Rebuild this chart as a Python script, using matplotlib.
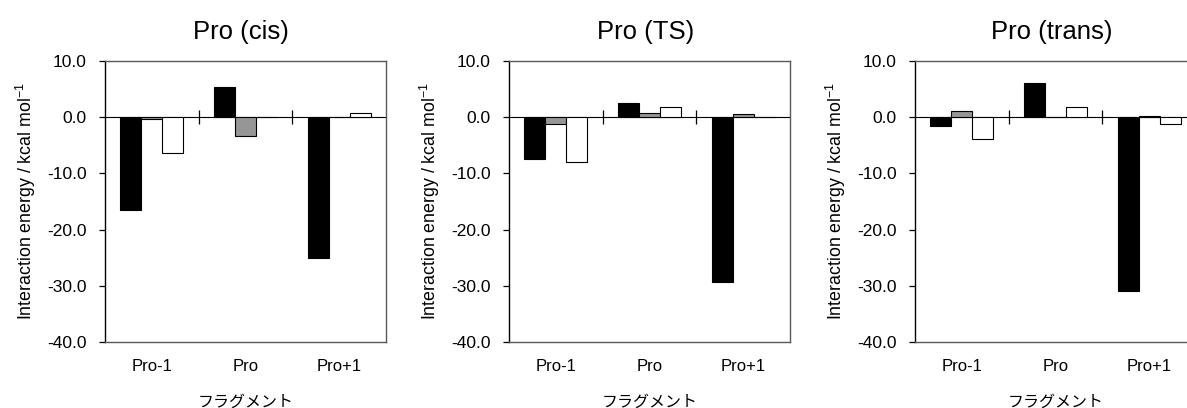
import matplotlib
matplotlib.use('Agg')
import matplotlib.pyplot as plt
import numpy as np

plt.rcParams['font.family'] = ['Liberation Sans', 'Noto Sans CJK JP', 'DejaVu Sans']
plt.rcParams['mathtext.default'] = 'regular'

# --- data ---
fragments = ['Pro-1', 'Pro', 'Pro+1']
titles = ['Pro (cis)', 'Pro (TS)', 'Pro (trans)']

# three series per panel: black, gray, white
cis_black = [-16.5, 5.4, -25.1]
cis_gray = [-0.4, -3.3, 0.0]
cis_white = [-6.3, 0.0, 0.8]

ts_black = [-7.4, 2.6, -29.4]
ts_gray = [-1.2, 0.8, 0.5]
ts_white = [-7.9, 1.8, 0.0]

trans_black = [-1.5, 6.0, -31.0]
trans_gray = [1.1, 0.0, 0.2]
trans_white = [-3.8, 1.8, -1.2]

panels = [
    (cis_black, cis_gray, cis_white),
    (ts_black, ts_gray, ts_white),
    (trans_black, trans_gray, trans_white),
]
colors = ['black', '#969696', 'white']
yticks = [10.0, 0.0, -10.0, -20.0, -30.0, -40.0]

fig = plt.figure(figsize=(11.87, 4.08), dpi=100)
lefts = [105, 509, 915]
W, H = 1187, 408
line_grey = '#595959'

x = np.arange(len(fragments))
bw = 0.225

for i, (series, title) in enumerate(zip(panels, titles)):
    ax = fig.add_axes([lefts[i] / W, 1 - 342 / H, 281 / W, 281 / H])
    for j, (vals, c) in enumerate(zip(series, colors)):
        ax.bar(x + (j - 1) * bw, vals, bw, color=c, edgecolor='black',
               linewidth=0.8, zorder=2)
    ax.set_xlim(-0.5, 2.5)
    ax.set_ylim(-40, 10)
    ax.set_yticks(yticks)
    ax.set_yticklabels([f'{v:.1f}' for v in yticks], fontsize=12.5)
    ax.tick_params(axis='y', direction='out', length=4, width=0.9, pad=9)
    ax.set_xticks(x)
    ax.set_xticklabels(fragments, fontsize=12)
    ax.tick_params(axis='x', length=0, pad=12)
    for side in ['top', 'right', 'bottom']:
        ax.spines[side].set_color(line_grey)
        ax.spines[side].set_linewidth(1.0)
    ax.spines['left'].set_color('black')
    ax.spines['left'].set_linewidth(1.0)

    # category axis crossing at zero, ticks between categories
    sec = ax.secondary_xaxis(0.8)
    sec.set_xticks([0.5, 1.5])
    sec.set_xticklabels([])
    sec.tick_params(direction='inout', length=10, width=0.9, color='black')
    sec.spines['bottom'].set_linewidth(1.0)
    sec.spines['bottom'].set_color(line_grey)

    ax.set_ylabel('Interaction energy / kcal mol$^{-1}$', fontsize=12.8)
    ax.yaxis.set_label_coords(-67 / 281, 0.5)
    ax.set_xlabel('フラグメント', fontsize=11.5, labelpad=15)
    ax.set_title(title, fontsize=18.5, pad=16, x=0.485)

fig.savefig('out.png', dpi=100)
